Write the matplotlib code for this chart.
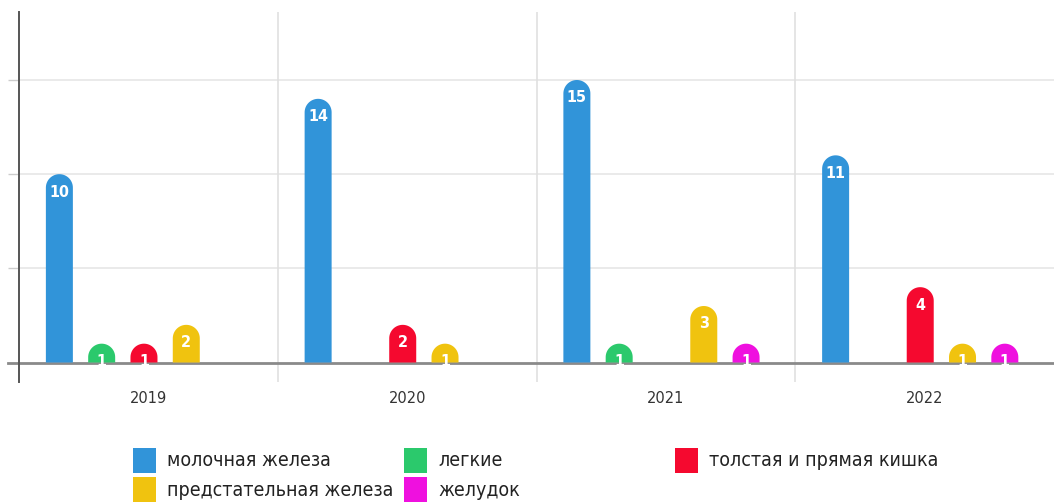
import numpy as np
import matplotlib
matplotlib.use("Agg")
import matplotlib.pyplot as plt
from matplotlib.path import Path
from matplotlib.patches import PathPatch, Rectangle

years = ["2019", "2020", "2021", "2022"]
series = ["молочная железа", "легкие", "толстая и прямая кишка",
          "предстательная железа", "желудок"]
breast = [10, 14, 15, 11]
lungs = [1, 0, 1, 0]
colon = [1, 2, 0, 4]
prostate = [2, 1, 3, 1]
stomach = [0, 0, 1, 1]
colors = ["#3194d9", "#2bc96c", "#f5092f", "#f0c30f", "#ef10df"]

values = [breast, lungs, colon, prostate, stomach]

plt.rcParams["font.family"] = ["DejaVu Sans"]

fig = plt.figure(figsize=(10.54, 5.03), dpi=100)
W, H = 1054, 503
ax = fig.add_axes([19 / W, 1 - 382 / H, 1 - 19 / W, (382 - 12) / H])
ax.set_xlim(-0.5, 3.5)
ax.set_ylim(-1.035, 18.61)

for s in ["top", "right", "bottom"]:
    ax.spines[s].set_visible(False)
ax.spines["left"].set_color("#555555")
ax.spines["left"].set_linewidth(1.4)

ax.set_yticks([5, 10, 15])
ax.set_yticklabels([])
ax.tick_params(axis="y", length=8, color="#cccccc", width=1)
ax.set_xticks([])
for yv in [5, 10, 15]:
    ax.axhline(yv, color="#e6e6e6", lw=1.2, zorder=0)
for xv in [0.5, 1.5, 2.5]:
    ax.axvline(xv, color="#e0e0e0", lw=1.2, zorder=0)
# baseline, running a little past the left spine like a tick
ax.axhline(0, xmin=-11 / 1035, xmax=1, color="#8a8a8a", lw=2, zorder=2, clip_on=False)

fig.canvas.draw()
bb = ax.get_window_extent()
xu = 4.0 / bb.width
yu = (18.61 + 1.035) / bb.height

bar_w = 27 * xu
ry = (bar_w / 2) * yu / xu
offsets = [(-89 + 42.3 * i) * xu for i in range(5)]


def rounded_bar(x, h, color):
    r = bar_w / 2
    top = max(h - ry, 0)
    t = np.linspace(0, np.pi, 40)
    xs = x + r * np.cos(t)
    ys = top + ry * np.sin(t)
    verts = [(x + r, 0), (x + r, top)] + list(zip(xs, ys)) + [(x - r, top), (x - r, 0), (x + r, 0)]
    verts = [(vx, max(vy, 0)) for vx, vy in verts]
    codes = [Path.MOVETO] + [Path.LINETO] * (len(verts) - 2) + [Path.CLOSEPOLY]
    ax.add_patch(PathPatch(Path(verts, codes), facecolor=color, edgecolor="none", zorder=3))


for i, vals in enumerate(values):
    for j, v in enumerate(vals):
        if v <= 0:
            continue
        x = j + offsets[i]
        rounded_bar(x, v, colors[i])
        ax.text(x, v - 0.95, str(v), color="white", fontsize=11.5, fontweight="bold",
                fontstretch="condensed", ha="center", va="center", zorder=4)

for j, yr in enumerate(years):
    ax.text(j, -1.9, yr, ha="center", va="center", fontsize=10.5, color="#333333",
            clip_on=False)

# legend drawn as fixed grid
for i, name in enumerate(series):
    col, row = i % 3, i // 3
    x0 = 133 + col * 271
    y0 = 448 + row * 29
    fig.patches.append(Rectangle((x0 / W, 1 - (y0 + 25) / H), 23 / W, 25 / H,
                                 facecolor=colors[i], edgecolor="none",
                                 transform=fig.transFigure, figure=fig))
    fig.text((x0 + 34) / W, 1 - (y0 + 13) / H, name, fontsize=14, color="#222222",
             va="center", ha="left", fontstretch="condensed")

fig.savefig("out.png", dpi=100)
